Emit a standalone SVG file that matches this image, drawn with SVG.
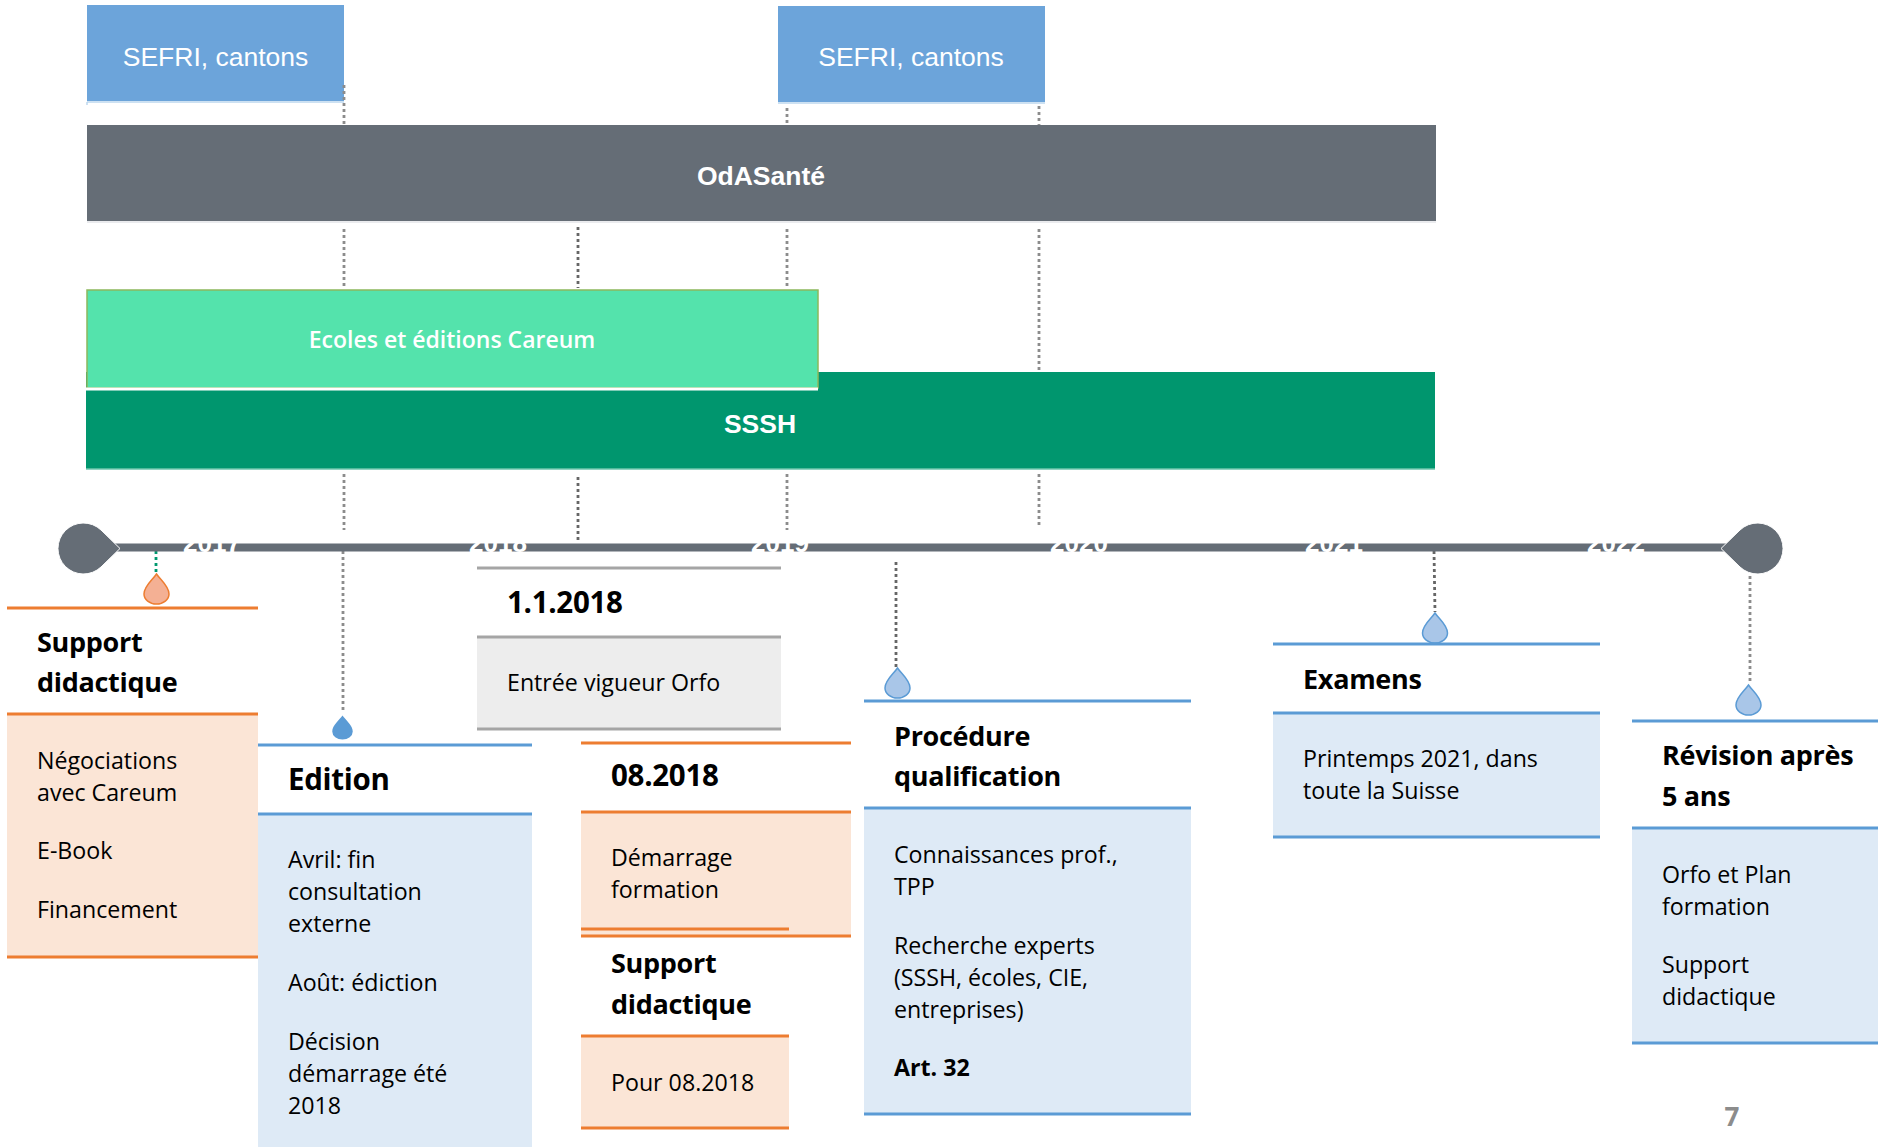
<svg xmlns="http://www.w3.org/2000/svg" width="1878" height="1147" viewBox="0 0 1878 1147">
<style>
text{font-family:"Open Sans","Noto Sans","Liberation Sans",sans-serif;fill:#000}
.h{font-size:27px;font-weight:700;letter-spacing:-.3px}
.d{font-size:29.500px;font-weight:700;letter-spacing:-.3px}
.b{font-size:23.200px}
.bb{font-size:23.200px;font-weight:700}
.w{fill:#fff;font-family:"Liberation Sans",Arial,sans-serif;text-anchor:middle}
.dot{stroke:#8c8c8c;stroke-width:2.800;stroke-dasharray:3 3;fill:none}
.dk{stroke:#666}
.or{stroke:#ED7D31;stroke-width:3;fill:none}
.bl{stroke:#5B9BD5;stroke-width:3;fill:none}
.gr{stroke:#A5A5A5;stroke-width:3;fill:none}
.fo{fill:#FBE5D6}.fb{fill:#DEEAF6}.fg{fill:#EDEDED}
.dro{fill:#A9C6E8;stroke:#5B9BD5;stroke-width:1.5}
</style>
<defs>
<path id="drop" d="M0 -15 C4 -9 12.5 -3 12.500 5 A12.500 10 0 0 1 -12.500 5 C-12.500 -3 -4 -9 0 -15Z"/>
</defs>
<g id="sefri1"><path d="M87 102H344M87 102V105" stroke="#BDD7EE" stroke-width="1.500" fill="none"/><rect x="87" y="5" width="257" height="96" fill="#6CA4DA"/><text class="w" x="215.500" y="66" font-size="26.500">SEFRI, cantons</text></g>
<g id="sefri2"><path d="M778 103H1045" stroke="#BDD7EE" stroke-width="1.500" fill="none"/><rect x="778" y="6" width="267" height="96" fill="#6CA4DA"/><text class="w" x="911" y="66" font-size="26.500">SEFRI, cantons</text></g>
<g id="odasante"><path d="M87 222H1436" stroke="#E3E5E8" stroke-width="1.500" fill="none"/><rect x="87" y="125" width="1349" height="96" fill="#656D76"/><text class="w" x="761" y="185" font-size="26.500" font-weight="700">OdASanté</text></g>
<g id="sssh"><rect x="86" y="372" width="1349" height="97" fill="#00966E"/><path d="M86 469H1435" stroke="#6CC6AD" stroke-width="1.500" fill="none"/><text class="w" x="760" y="433" font-size="26.500" font-weight="700">SSSH</text></g>
<g id="careum"><rect x="87" y="290" width="731" height="98" fill="#54E3AC" stroke="#8CB85C" stroke-width="1.500"/><line x1="86" y1="389" x2="818" y2="389" stroke="#fff" stroke-width="3"/><text x="452" y="348" text-anchor="middle" font-size="23" font-weight="600" style="fill:#fff">Ecoles et éditions Careum</text></g>
<g id="connectors">
<path class="dot" d="M344 85V125M344 229V289M344 474V530M343 551V710"/>
<path class="dot dk" d="M578 227V288M578 477V543"/>
<path class="dot" d="M787 108V125M787 229V289M787 474V530"/>
<path class="dot" d="M1039 106V125M1039 229V372M1039 474V525"/>
<path class="dot dk" d="M896 562V667M1434 551L1435 612"/>
<path class="dot" d="M1750 576V684"/>
<path class="dot" d="M156 551V574" style="stroke:#00996F"/>
</g>
<g id="timeline">
<rect x="110" y="543.500" width="1620" height="8" fill="#656D76"/>
<path d="M120 548.500 L101 567 A25.500 25.500 0 1 1 101 530Z" fill="#656D76" stroke="#fff" stroke-width="1"/>
<path d="M1721 548.500 L1740 530 A25.500 25.500 0 1 1 1740 567Z" fill="#656D76" stroke="#fff" stroke-width="1"/>
<g><text class="w" font-size="26" font-weight="700" x="212" y="552">2017</text><text class="w" font-size="26" font-weight="700" x="498" y="552">2018</text><text class="w" font-size="26" font-weight="700" x="780" y="552">2019</text><text class="w" font-size="26" font-weight="700" x="1079" y="552">2020</text><text class="w" font-size="26" font-weight="700" x="1334" y="552">2021</text><text class="w" font-size="26" font-weight="700" x="1616" y="552">2022</text></g>
</g>
<g id="support1" transform="translate(0 1)">
<use href="#drop" x="156.500" y="588" style="fill:#F4B094;stroke:#ED7D31;stroke-width:1.500"/>
<rect x="7" y="713" width="251" height="243" class="fo"/>
<path class="or" d="M7 607H258M7 713H258M7 956H258"/>
<text class="h" x="37" y="650.500">Support</text><text class="h" x="37" y="690.500">didactique</text>
<text class="b" x="37" y="768">Négociations</text><text class="b" x="37" y="800">avec Careum</text><text class="b" x="37" y="858">E-Book</text><text class="b" x="37" y="917">Financement</text>
</g>
<g id="edition" transform="translate(0 1)">
<use href="#drop" transform="translate(342.500 726.500) scale(.82 .8)" fill="#5B9BD5"/>
<rect x="258" y="813" width="274" height="334" class="fb"/>
<path class="bl" d="M258 744H532M258 813H532"/>
<text class="d" x="288" y="789">Edition</text>
<text class="b" x="288" y="867">Avril: fin</text><text class="b" x="288" y="899">consultation</text><text class="b" x="288" y="931">externe</text>
<text class="b" x="288" y="990">Août: édiction</text>
<text class="b" x="288" y="1049">Décision</text><text class="b" x="288" y="1081">démarrage été</text><text class="b" x="288" y="1113">2018</text>
</g>
<g id="date2018" transform="translate(0 1)">
<rect x="477" y="636" width="304" height="92" class="fg"/>
<path class="gr" d="M477 567H781M477 636H781M477 728H781"/>
<text class="d" x="507" y="612">1.1.2018</text>
<text class="b" x="507" y="690">Entrée vigueur Orfo</text>
</g>
<g id="aout2018" transform="translate(0 1)">
<rect x="581" y="811" width="270" height="124" class="fo"/>
<path class="or" d="M581 742H851M581 811H851M581 935H851M581 928H789"/>
<text class="d" x="611" y="785">08.2018</text>
<text class="b" x="611" y="865">Démarrage</text><text class="b" x="611" y="897">formation</text>
</g>
<g id="support2" transform="translate(0 1)">
<rect x="581" y="1035" width="208" height="92" class="fo"/>
<path class="or" d="M581 1035H789M581 1127H789"/>
<text class="h" x="611" y="972">Support</text><text class="h" x="611" y="1012.500">didactique</text>
<text class="b" x="611" y="1090">Pour 08.2018</text>
</g>
<g id="procedure" transform="translate(0 1)">
<use href="#drop" x="897.500" y="682" class="dro"/>
<rect x="864" y="807" width="327" height="306" class="fb"/>
<path class="bl" d="M864 700H1191M864 807H1191M864 1113H1191"/>
<text class="h" x="894" y="745">Procédure</text><text class="h" x="894" y="785">qualification</text>
<text class="b" x="894" y="862">Connaissances prof.,</text><text class="b" x="894" y="894">TPP</text>
<text class="b" x="894" y="953">Recherche experts</text><text class="b" x="894" y="985">(SSSH, écoles, CIE,</text><text class="b" x="894" y="1017">entreprises)</text>
<text class="bb" x="894" y="1075">Art. 32</text>
</g>
<g id="examens" transform="translate(0 1)">
<use href="#drop" x="1435" y="627" class="dro"/>
<rect x="1273" y="712" width="327" height="124" class="fb"/>
<path class="bl" d="M1273 643H1600M1273 712H1600M1273 836H1600"/>
<text class="h" x="1303" y="687.500">Examens</text>
<text class="b" x="1303" y="766">Printemps 2021, dans</text><text class="b" x="1303" y="798">toute la Suisse</text>
</g>
<g id="revision" transform="translate(0 1)">
<use href="#drop" x="1748.500" y="699" class="dro"/>
<rect x="1632" y="827" width="246" height="215" class="fb"/>
<path class="bl" d="M1632 720H1878M1632 827H1878M1632 1042H1878"/>
<text class="h" x="1662" y="763.500">Révision après</text><text class="h" x="1662" y="804.500">5 ans</text>
<text class="b" x="1662" y="882">Orfo et Plan</text><text class="b" x="1662" y="914">formation</text>
<text class="b" x="1662" y="972">Support</text><text class="b" x="1662" y="1004">didactique</text>
</g>
<g id="page"><text x="1732" y="1126" font-size="26" font-weight="700" text-anchor="middle" style="fill:#8C8C8C">7</text></g>
</svg>
